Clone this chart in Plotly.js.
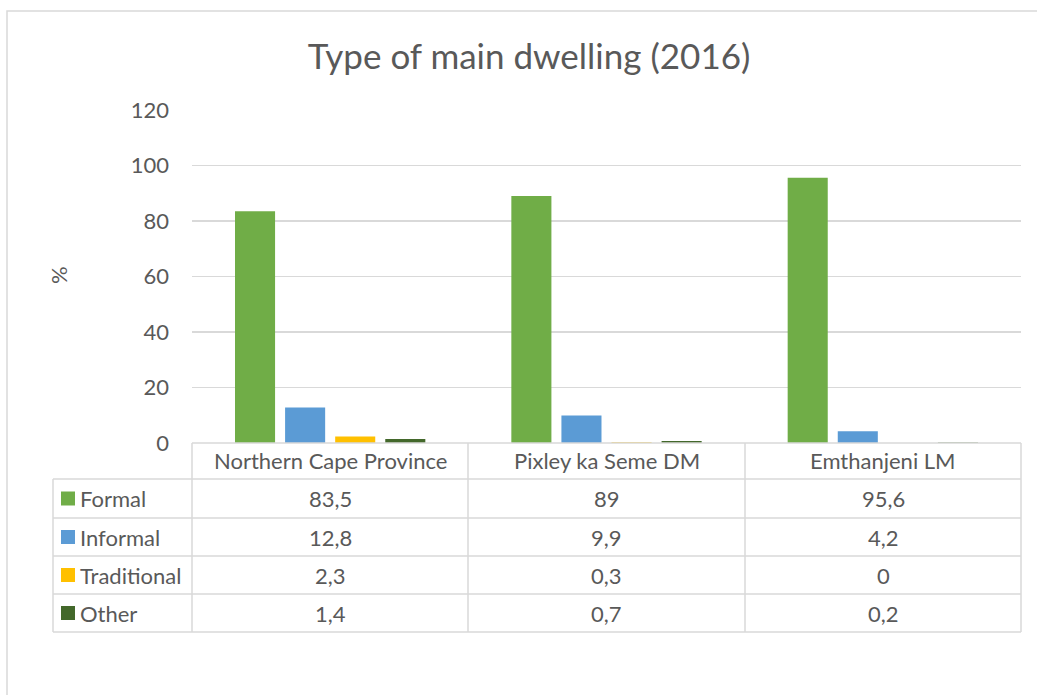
<!DOCTYPE html>
<html>
<head>
<meta charset="utf-8">
<script src="https://cdn.plot.ly/plotly-3.0.1.min.js"></script>
<style>html,body{margin:0;padding:0;background:#fff;}#chart{width:1037px;height:695px;}</style>
</head>
<body>
<div id="chart"></div>
<script>
const categories = ["Northern Cape Province", "Pixley ka Seme DM", "Emthanjeni LM"];
const seriesNames = ["Formal", "Informal", "Traditional", "Other"];
const formal = [83.5, 89, 95.6];
const informal = [12.8, 9.9, 4.2];
const traditional = [2.3, 0.3, 0];
const other = [1.4, 0.7, 0.2];
const seriesValues = [formal, informal, traditional, other];
const seriesColors = ["#70ad47", "#5b9bd5", "#ffc000", "#43682b"];
const yTicks = [0, 20, 40, 60, 80, 100, 120];

const W = 1037, H = 695;
const L = 192, R = 1021, T = 110, B = 443;
const px = x => (x - L) / (R - L);
const py = y => (B - y) / (B - T);
const FONT = "Lato, 'Open Sans', sans-serif";
const TXT = "#595959";
const GRID = "#d9d9d9";
const FS = 22;

const traces = seriesNames.map((n, i) => ({
  type: "bar", name: n, x: categories, y: seriesValues[i],
  marker: {color: seriesColors[i]}, showlegend: false, hoverinfo: "x+y+name"
}));

const shapes = [];
const annotations = [];
const line = (x0, y0, x1, y1) => shapes.push({type: "line", xref: "paper", yref: "paper",
  x0: px(x0), y0: py(y0), x1: px(x1), y1: py(y1), line: {color: GRID, width: 1.5}});

// outer chart border
shapes.push({type: "rect", xref: "paper", yref: "paper", x0: px(7), x1: px(1045), y0: py(11), y1: py(705),
  line: {color: GRID, width: 1.5}, fillcolor: "rgba(0,0,0,0)", layer: "below"});

const colX = [192, 468, 745, 1021];
const rowY = [443, 479, 518, 556, 594, 632];
const leftX = 53;
// horizontal table lines
line(192, rowY[0], 1021, rowY[0]);
for (let r = 1; r < rowY.length; r++) line(leftX, rowY[r], 1021, rowY[r]);
// vertical table lines
line(leftX, rowY[1], leftX, rowY[5]);
colX.forEach(x => line(x, rowY[0], x, rowY[5]));

// header labels
categories.forEach((c, j) => annotations.push({xref: "paper", yref: "paper",
  x: px((colX[j] + colX[j + 1]) / 2), y: py((rowY[0] + rowY[1]) / 2), text: c, showarrow: false,
  xanchor: "center", yanchor: "middle", font: {family: FONT, size: FS, color: TXT}}));

// rows
seriesNames.forEach((n, i) => {
  const yc = (rowY[i + 1] + rowY[i + 2]) / 2;
  shapes.push({type: "rect", xref: "paper", yref: "paper", x0: px(61), x1: px(75),
    y0: py(yc - 7), y1: py(yc + 7), line: {width: 0}, fillcolor: seriesColors[i]});
  annotations.push({xref: "paper", yref: "paper", x: px(78), y: py(yc), text: n, showarrow: false,
    xanchor: "left", yanchor: "middle", font: {family: FONT, size: FS, color: TXT}});
  seriesValues[i].forEach((v, j) => annotations.push({xref: "paper", yref: "paper",
    x: px((colX[j] + colX[j + 1]) / 2), y: py(yc), text: String(v).replace(".", ","), showarrow: false,
    xanchor: "center", yanchor: "middle", font: {family: FONT, size: FS, color: TXT}}));
});

// y axis title
annotations.push({xref: "paper", yref: "paper", x: px(58), y: py(275), text: "%", showarrow: false,
  textangle: -90, xanchor: "center", yanchor: "middle", font: {family: FONT, size: FS, color: TXT}});

const layout = {
  width: W, height: H,
  margin: {l: L, r: W - R, t: T, b: H - B, pad: 0},
  paper_bgcolor: "#fff", plot_bgcolor: "#fff",
  font: {family: FONT, color: TXT},
  title: {text: "Type of main dwelling (2016)", x: 529 / W, xanchor: "center", y: 1 - 57 / H, yanchor: "middle",
    font: {family: FONT, size: 35, color: TXT}},
  barmode: "group", bargap: 0.275, bargroupgap: 0.2,
  xaxis: {showticklabels: false, showgrid: false, zeroline: false, showline: false, ticks: "", fixedrange: true},
  yaxis: {range: [0, 120], tickvals: yTicks, ticktext: yTicks.map(String), showgrid: true, gridcolor: GRID, gridwidth: 1.5,
    zeroline: false, showline: false, ticks: "", ticklabelstandoff: 22,
    tickfont: {family: FONT, size: FS, color: TXT}, fixedrange: true},
  shapes: shapes, annotations: annotations
};

Plotly.newPlot("chart", traces, layout, {displayModeBar: false, staticPlot: true});
</script>
</body>
</html>
